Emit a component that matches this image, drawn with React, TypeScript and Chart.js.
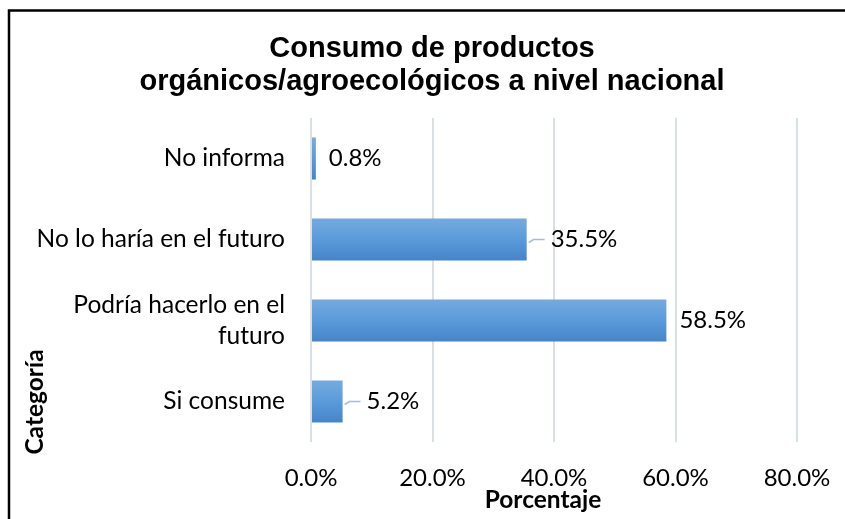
import React, { useEffect, useRef } from "react";
import { Chart, registerables } from "chart.js";

Chart.register(...registerables);

const titleLines = ["Consumo de productos", "orgánicos/agroecológicos a nivel nacional"];
const categories: (string | string[])[] = [
  "No informa",
  "No lo haría en el futuro",
  ["Podría hacerlo en el", "futuro"],
  "Si consume",
];
const values = [0.8, 35.5, 58.5, 5.2];
const hasLeader = [false, true, false, true];
const xMin = 0;
const xMax = 80;
const xStep = 20;
const xTitle = "Porcentaje";
const yTitle = "Categoría";

const FONT = "Lato, 'Open Sans', sans-serif";
const BAR_PCT = 0.52;

const overlayPlugin = {
  id: "overlay",
  beforeDraw(chart: any) {
    const c = chart.ctx;
    c.save();
    c.fillStyle = "#ffffff";
    c.fillRect(0, 0, chart.width, chart.height);
    c.strokeStyle = "#000";
    c.lineWidth = 2.5;
    c.beginPath();
    c.moveTo(9, chart.height);
    c.lineTo(9, 10.5);
    c.lineTo(chart.width, 10.5);
    c.stroke();
    c.restore();
  },
  afterDraw(chart: any) {
    const c = chart.ctx;
    c.save();
    // title
    c.fillStyle = "#000";
    c.textAlign = "center";
    c.textBaseline = "alphabetic";
    c.font = "bold 29px 'Liberation Sans', Arial, sans-serif";
    c.fillText(titleLines[0], 432, 57);
    c.fillText(titleLines[1], 432, 90);
    // axis titles
    c.font = `bold 24.5px ${FONT}`;
    c.textBaseline = "middle";
    c.fillText(xTitle, 543, 500);
    c.save();
    c.translate(35, 402);
    c.rotate(-Math.PI / 2);
    c.fillText(yTitle, 0, 0);
    c.restore();
    // data labels
    const meta = chart.getDatasetMeta(0);
    const xs = chart.scales.x;
    c.font = `24px ${FONT}`;
    c.textAlign = "left";
    c.textBaseline = "middle";
    meta.data.forEach((el: any, i: number) => {
      const endX = xs.getPixelForValue(values[i]);
      const cy = el.y;
      if (hasLeader[i]) {
        c.strokeStyle = "#a9bcd3";
        c.lineWidth = 1.5;
        c.beginPath();
        c.moveTo(endX + 2, cy + 3);
        c.lineTo(endX + 7, cy);
        c.lineTo(endX + 18, cy);
        c.stroke();
        c.fillStyle = "#000";
        c.fillText(values[i].toFixed(1) + "%", endX + 24, cy);
      } else {
        c.fillStyle = "#000";
        c.fillText(values[i].toFixed(1) + "%", endX + 13, cy);
      }
    });
    c.restore();
  },
};

export default function App() {
  const ref = useRef<HTMLCanvasElement | null>(null);
  useEffect(() => {
    if (!ref.current) return;
    const chart = new Chart(ref.current, {
      type: "bar",
      data: {
        labels: categories as any,
        datasets: [
          {
            data: values,
            backgroundColor: (ctx: any) => {
              const ch = ctx.chart;
              const ys = ch.scales && ch.scales.y;
              if (!ys || ctx.type !== "data" || !isFinite(ys.height) || ys.height <= 0) return "#5b9bd9";
              const cy = ys.getPixelForValue(ctx.dataIndex);
              const half = (ys.height / categories.length) * BAR_PCT / 2;
              const g = ch.ctx.createLinearGradient(0, cy - half, 0, cy + half);
              g.addColorStop(0, "#76aade");
              g.addColorStop(0.5, "#5a9bdb");
              g.addColorStop(1, "#4684c7");
              return g;
            },
            borderWidth: 0,
            categoryPercentage: 1,
            barPercentage: BAR_PCT,
          },
        ],
      },
      options: {
        indexAxis: "y",
        responsive: false,
        animation: false,
        layout: { padding: { top: 118, right: 48, left: 0, bottom: 0 } },
        plugins: {
          legend: { display: false },
          title: { display: false },
          tooltip: { enabled: false },
        },
        scales: {
          x: {
            min: xMin,
            max: xMax,
            ticks: {
              stepSize: xStep,
              callback: (v: any) => Number(v).toFixed(1) + "%",
              color: "#000",
              font: { family: FONT, size: 24 },
              padding: 22,
            },
            grid: { color: "#d9dfe7", lineWidth: 2, drawTicks: false },
            border: { display: false },
            afterFit: (s: any) => {
              s.height = 77;
              s.paddingLeft = 0;
              s.paddingRight = 0;
            },
          },
          y: {
            ticks: {
              color: "#000",
              font: { family: FONT, size: 24.5, lineHeight: 1.27 },
              padding: 26,
            },
            grid: { display: false, drawTicks: false },
            border: { display: false },
            afterFit: (s: any) => {
              s.width = 311;
              s.paddingTop = 0;
              s.paddingBottom = 0;
            },
          },
        },
      },
      plugins: [overlayPlugin],
    });
    return () => chart.destroy();
  }, []);
  return (
    <div style={{ position: "fixed", left: 0, top: 0, width: 845, height: 519, background: "#fff" }}>
      <canvas ref={ref} width={845} height={519} />
    </div>
  );
}
